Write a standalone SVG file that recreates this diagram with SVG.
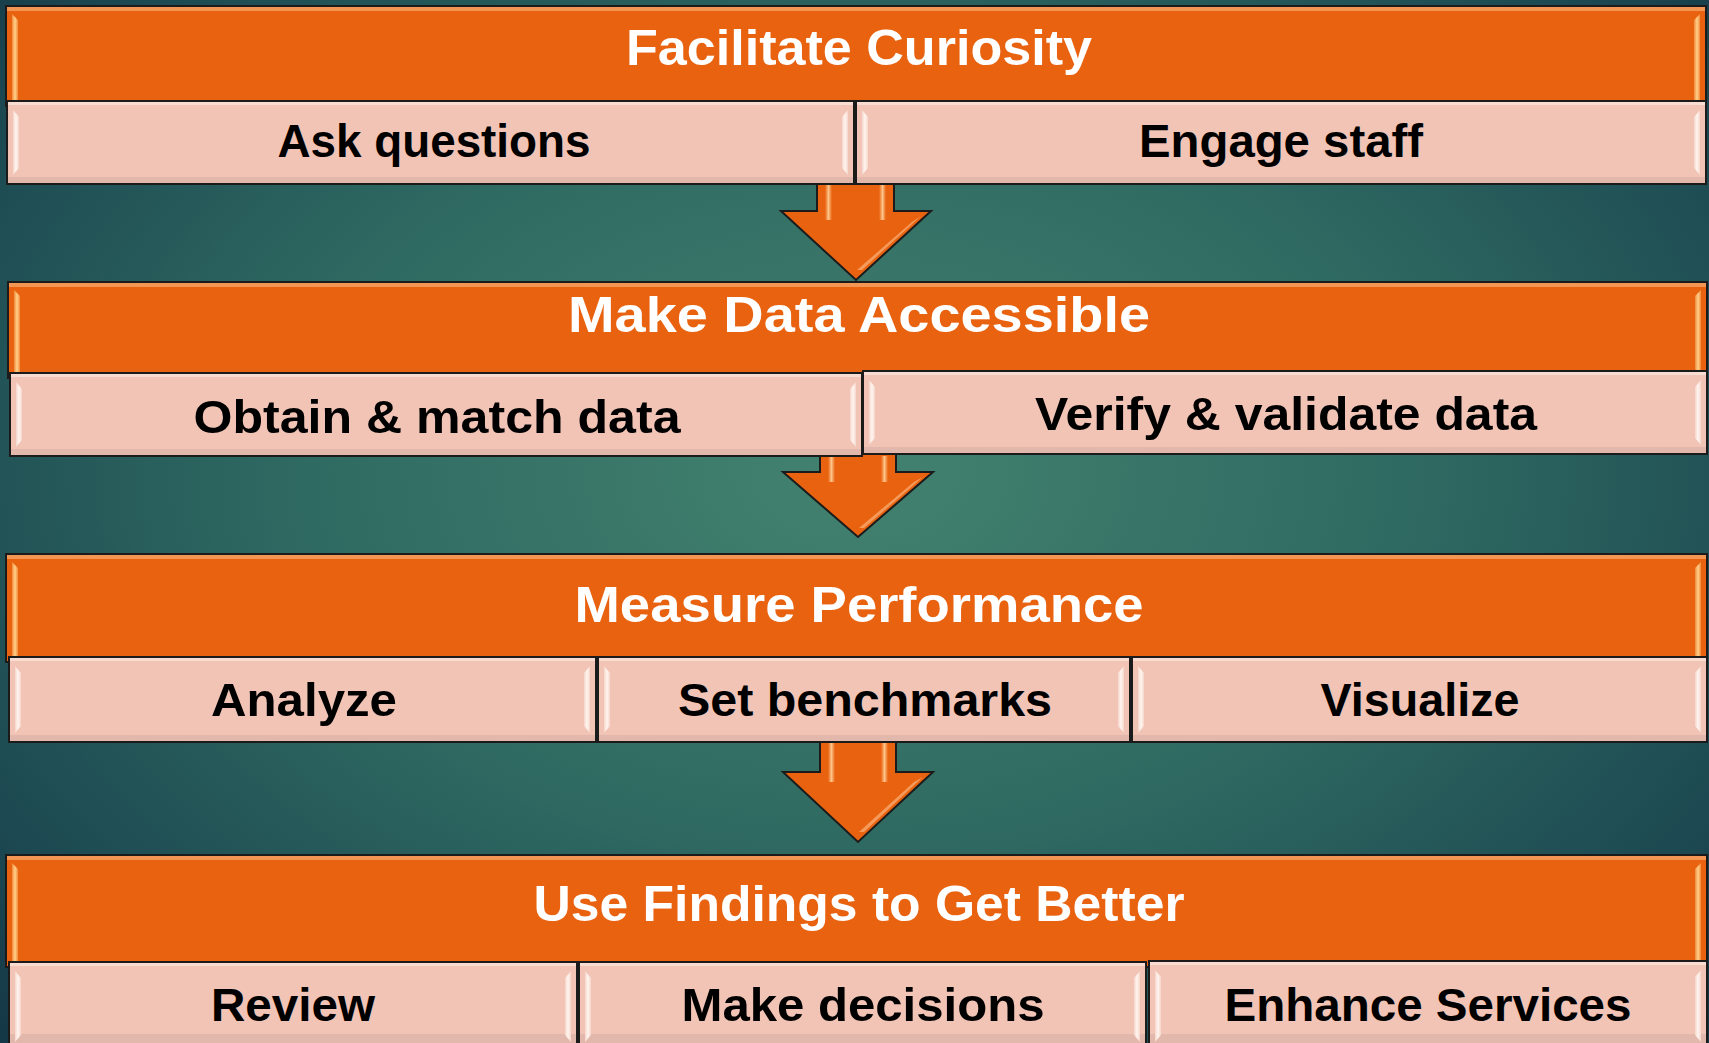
<svg xmlns="http://www.w3.org/2000/svg" width="1709" height="1043" viewBox="0 0 1709 1043">
  <defs>
    <radialGradient id="bg" cx="0.5" cy="0.45" r="0.72" gradientTransform="translate(0.5 0.45) scale(1 1.1) translate(-0.5 -0.45)">
      <stop offset="0" stop-color="#43826f"/>
      <stop offset="0.45" stop-color="#2f6a62"/>
      <stop offset="0.8" stop-color="#1d4a52"/>
      <stop offset="1" stop-color="#143545"/>
    </radialGradient>
    <linearGradient id="orangeBevel" x1="0" y1="0" x2="1" y2="0">
      <stop offset="0" stop-color="#f08a3a"/>
      <stop offset="0.5" stop-color="#ffd08a"/>
      <stop offset="1" stop-color="#f08a3a"/>
    </linearGradient>
    <linearGradient id="pinkBevel" x1="0" y1="0" x2="1" y2="0">
      <stop offset="0" stop-color="#f6d6cc"/>
      <stop offset="0.5" stop-color="#fff6f0"/>
      <stop offset="1" stop-color="#f6d6cc"/>
    </linearGradient>
    <linearGradient id="shaftShine" x1="0" y1="0" x2="1" y2="0">
      <stop offset="0" stop-color="#e8620f"/>
      <stop offset="0.5" stop-color="#ffc58a"/>
      <stop offset="1" stop-color="#e8620f"/>
    </linearGradient>
    <style>
      .band { fill: #e8620f; stroke: #1b1b1b; stroke-width: 2; }
      .band-top { fill: #f39654; }
      .tile { fill: #f2c4b6; stroke: #1b1b1b; stroke-width: 2; }
      .tile-top { fill: #f8dcd2; }
      .tile-bottom { fill: #dcb3a8; opacity: 0.7; }
      .obev { fill: url(#orangeBevel); }
      .pbev { fill: url(#pinkBevel); }
      .arrow { fill: #e8620f; stroke: #1b1b1b; stroke-width: 2; stroke-linejoin: miter; }
      .shine { fill: url(#shaftShine); }
      .edge-shine { fill: #f7a468; opacity: 0.85; }
      .title { font-family: "Liberation Sans", Arial, sans-serif; font-weight: bold; font-size: 50px; fill: #ffffff; text-anchor: middle; }
      .label { font-family: "Liberation Sans", Arial, sans-serif; font-weight: bold; font-size: 47px; fill: #000000; text-anchor: middle; }
    </style>
  </defs>

  <!-- backdrop -->
  <rect x="0" y="0" width="1709" height="1043" fill="url(#bg)"/>

  <!-- connectors: block arrows between stages -->
  <g id="connectors">
    <g id="arrow-1">
      <path class="arrow" d="M817,176 L894,176 L894,211 L931,211 L856,280 L781,211 L817,211 Z"/>
      <rect class="shine" x="825" y="184" width="7" height="36"/>
      <rect class="shine" x="879" y="184" width="7" height="36"/>
      <polygon class="edge-shine" points="912,222 921,216 862,270 857,270"/>
    </g>
    <g id="arrow-2">
      <path class="arrow" d="M820,448 L896,448 L896,472 L933,472 L858,537 L783,472 L820,472 Z"/>
      <rect class="shine" x="828" y="456" width="7" height="26"/>
      <rect class="shine" x="881" y="456" width="7" height="26"/>
      <polygon class="edge-shine" points="914,482 923,477 864,528 859,528"/>
    </g>
    <g id="arrow-3">
      <path class="arrow" d="M820,735 L896,735 L896,772 L933,772 L858,842 L783,772 L820,772 Z"/>
      <rect class="shine" x="828" y="743" width="7" height="39"/>
      <rect class="shine" x="881" y="743" width="7" height="39"/>
      <polygon class="edge-shine" points="914,782 923,777 864,832 859,832"/>
    </g>
  </g>

  <!-- stage 1 -->
  <g id="stage-1">
    <rect class="band" x="6" y="6" width="1700" height="100"/>
    <rect class="band-top" x="7" y="7" width="1698" height="4"/>
    <polygon class="obev" points="12,14 18,20 18,101 12,101"/>
    <polygon class="obev" points="1700,14 1694,20 1694,101 1700,101"/>
    <text class="title" x="859" y="65" textLength="466" lengthAdjust="spacingAndGlyphs">Facilitate Curiosity</text>
  </g>
  <g id="ask-questions">
    <rect class="tile" x="7" y="101" width="847" height="83"/>
    <rect class="tile-top" x="8" y="102" width="845" height="3"/>
    <rect class="tile-bottom" x="8" y="177" width="845" height="6"/>
    <polygon class="pbev" points="13,110 19,117 19,168 13,175"/>
    <polygon class="pbev" points="848,110 842,117 842,168 848,175"/>
    <text class="label" x="434" y="157" textLength="313" lengthAdjust="spacingAndGlyphs">Ask questions</text>
  </g>
  <g id="engage-staff">
    <rect class="tile" x="856" y="101" width="850" height="83"/>
    <rect class="tile-top" x="857" y="102" width="848" height="3"/>
    <rect class="tile-bottom" x="857" y="177" width="848" height="6"/>
    <polygon class="pbev" points="862,110 868,117 868,168 862,175"/>
    <polygon class="pbev" points="1700,110 1694,117 1694,168 1700,175"/>
    <text class="label" x="1281" y="157" textLength="284" lengthAdjust="spacingAndGlyphs">Engage staff</text>
  </g>

  <!-- stage 2 -->
  <g id="stage-2">
    <rect class="band" x="8" y="282" width="1699" height="96"/>
    <rect class="band-top" x="9" y="283" width="1697" height="4"/>
    <polygon class="obev" points="14,290 20,296 20,373 14,373"/>
    <polygon class="obev" points="1701,290 1695,296 1695,371 1701,371"/>
    <text class="title" x="859" y="332" textLength="582" lengthAdjust="spacingAndGlyphs">Make Data Accessible</text>
  </g>
  <g id="obtain-match">
    <rect class="tile" x="10" y="373" width="852" height="83"/>
    <rect class="tile-top" x="11" y="374" width="850" height="3"/>
    <rect class="tile-bottom" x="11" y="449" width="850" height="6"/>
    <polygon class="pbev" points="16,382 22,389 22,440 16,447"/>
    <polygon class="pbev" points="856,382 850,389 850,440 856,447"/>
    <text class="label" x="437" y="433" textLength="487" lengthAdjust="spacingAndGlyphs">Obtain &amp; match data</text>
  </g>
  <g id="verify-validate">
    <rect class="tile" x="863" y="371" width="844" height="83"/>
    <rect class="tile-top" x="864" y="372" width="842" height="3"/>
    <rect class="tile-bottom" x="864" y="447" width="842" height="6"/>
    <polygon class="pbev" points="869,380 875,387 875,438 869,445"/>
    <polygon class="pbev" points="1701,380 1695,387 1695,438 1701,445"/>
    <text class="label" x="1286" y="430" textLength="502" lengthAdjust="spacingAndGlyphs">Verify &amp; validate data</text>
  </g>

  <!-- stage 3 -->
  <g id="stage-3">
    <rect class="band" x="6" y="554" width="1701" height="108"/>
    <rect class="band-top" x="7" y="555" width="1699" height="4"/>
    <polygon class="obev" points="12,562 18,568 18,657 12,657"/>
    <polygon class="obev" points="1701,562 1695,568 1695,657 1701,657"/>
    <text class="title" x="859" y="622" textLength="569" lengthAdjust="spacingAndGlyphs">Measure Performance</text>
  </g>
  <g id="analyze">
    <rect class="tile" x="9" y="657" width="587" height="85"/>
    <rect class="tile-top" x="10" y="658" width="585" height="3"/>
    <rect class="tile-bottom" x="10" y="735" width="585" height="6"/>
    <polygon class="pbev" points="15,666 21,673 21,726 15,733"/>
    <polygon class="pbev" points="590,666 584,673 584,726 590,733"/>
    <text class="label" x="304" y="716" textLength="186" lengthAdjust="spacingAndGlyphs">Analyze</text>
  </g>
  <g id="set-benchmarks">
    <rect class="tile" x="598" y="657" width="532" height="85"/>
    <rect class="tile-top" x="599" y="658" width="530" height="3"/>
    <rect class="tile-bottom" x="599" y="735" width="530" height="6"/>
    <polygon class="pbev" points="604,666 610,673 610,726 604,733"/>
    <polygon class="pbev" points="1124,666 1118,673 1118,726 1124,733"/>
    <text class="label" x="865" y="716" textLength="374" lengthAdjust="spacingAndGlyphs">Set benchmarks</text>
  </g>
  <g id="visualize">
    <rect class="tile" x="1132" y="657" width="575" height="85"/>
    <rect class="tile-top" x="1133" y="658" width="573" height="3"/>
    <rect class="tile-bottom" x="1133" y="735" width="573" height="6"/>
    <polygon class="pbev" points="1138,666 1144,673 1144,726 1138,733"/>
    <polygon class="pbev" points="1701,666 1695,673 1695,726 1701,733"/>
    <text class="label" x="1420" y="716" textLength="199" lengthAdjust="spacingAndGlyphs">Visualize</text>
  </g>

  <!-- stage 4 -->
  <g id="stage-4">
    <rect class="band" x="6" y="855" width="1701" height="112"/>
    <rect class="band-top" x="7" y="856" width="1699" height="4"/>
    <polygon class="obev" points="12,863 18,869 18,962 12,962"/>
    <polygon class="obev" points="1701,863 1695,869 1695,962 1701,962"/>
    <text class="title" x="859" y="921" textLength="651" lengthAdjust="spacingAndGlyphs">Use Findings to Get Better</text>
  </g>
  <g id="review">
    <rect class="tile" x="9" y="962" width="568" height="90"/>
    <rect class="tile-top" x="10" y="963" width="566" height="3"/>
    <rect class="tile-bottom" x="10" y="1034" width="566" height="10"/>
    <polygon class="pbev" points="15,971 21,978 21,1035 15,1042"/>
    <polygon class="pbev" points="571,971 565,978 565,1035 571,1042"/>
    <text class="label" x="293" y="1021" textLength="164" lengthAdjust="spacingAndGlyphs">Review</text>
  </g>
  <g id="make-decisions">
    <rect class="tile" x="579" y="962" width="567" height="90"/>
    <rect class="tile-top" x="580" y="963" width="565" height="3"/>
    <rect class="tile-bottom" x="580" y="1034" width="565" height="10"/>
    <polygon class="pbev" points="585,971 591,978 591,1035 585,1042"/>
    <polygon class="pbev" points="1140,971 1134,978 1134,1035 1140,1042"/>
    <text class="label" x="863" y="1021" textLength="363" lengthAdjust="spacingAndGlyphs">Make decisions</text>
  </g>
  <g id="enhance-services">
    <rect class="tile" x="1149" y="961" width="558" height="91"/>
    <rect class="tile-top" x="1150" y="962" width="556" height="3"/>
    <rect class="tile-bottom" x="1150" y="1034" width="556" height="10"/>
    <polygon class="pbev" points="1155,970 1161,977 1161,1035 1155,1042"/>
    <polygon class="pbev" points="1701,970 1695,977 1695,1035 1701,1042"/>
    <text class="label" x="1428" y="1021" textLength="407" lengthAdjust="spacingAndGlyphs">Enhance Services</text>
  </g>
</svg>
